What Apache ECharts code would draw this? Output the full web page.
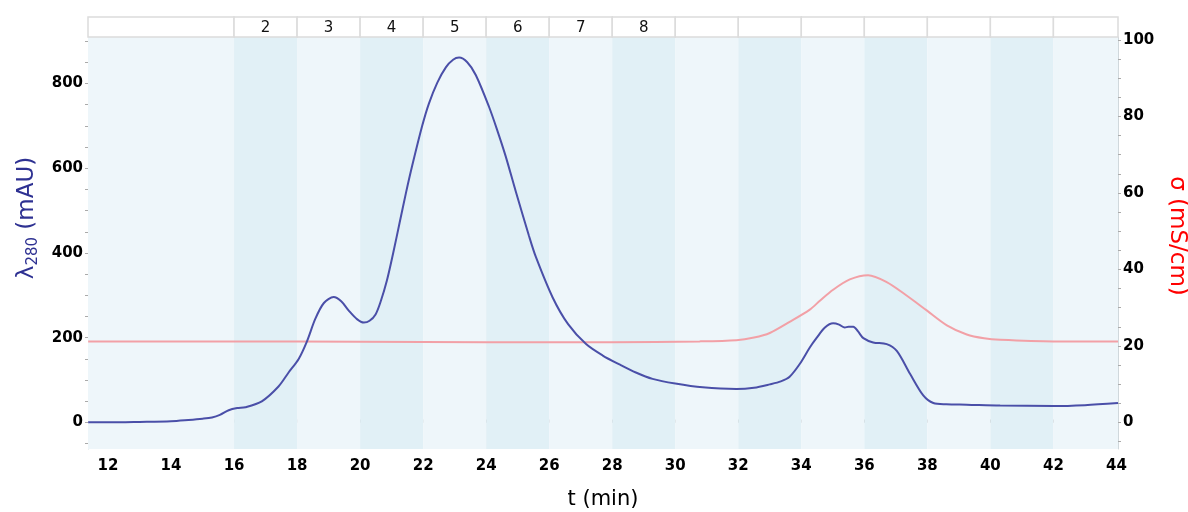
<!DOCTYPE html>
<html><head><meta charset="utf-8">
<script src="https://cdn.jsdelivr.net/npm/echarts@6/dist/echarts.min.js"></script>
<style>html,body{margin:0;padding:0;background:#fff}#c{width:1188px;height:512px}</style>
</head><body><div id="c"></div>
<script>
// ---- data ----
const xMin = 11.365, xMax = 44.05;
const absorbance = [[11.37,0.5],[12,0.5],[13,1.5],[14,3],[14.55,6],[15,9],[15.3,12],[15.55,18],[15.83,29],[16.1,34],[16.36,36],[16.88,50],[17.41,85],[17.73,118],[18.05,150],[18.31,191],[18.58,245],[18.85,282],[19.16,296],[19.4,286],[19.64,264],[19.9,244],[20.12,236],[20.3,240],[20.49,255],[20.65,285],[20.85,335],[21.05,400],[21.25,470],[21.45,540],[21.65,605],[21.97,700],[22.18,752],[22.45,802],[22.72,838],[22.95,856],[23.14,861],[23.4,850],[23.67,820],[24.09,745],[24.35,690],[24.62,628],[24.94,545],[25.36,440],[25.58,390],[26.11,295],[26.6,232],[27.17,185],[27.7,158],[28.23,137],[28.75,118],[29.28,103],[30.0,92],[30.87,83],[31.94,79],[32.5,82],[33.0,90],[33.35,97],[33.63,108],[33.95,138],[34.27,177],[34.48,199],[34.75,224],[35.01,234],[35.2,231],[35.38,224],[35.5,226],[35.65,226],[35.8,215],[35.97,199],[36.28,189],[36.71,185],[37.03,169],[37.45,115],[37.87,64],[38.19,46],[38.6,43],[39.25,42],[40.31,40],[42,39],[43,41],[44.05,46]];
const conductivity = [[11.37,21.2],[16,21.2],[20,21.1],[24,21.0],[28,21.0],[30.77,21.2],[31.94,21.5],[32.5,22.2],[33.0,23.4],[33.63,26.3],[34.27,29.5],[34.6,31.9],[35.01,34.7],[35.54,37.4],[36.12,38.5],[36.71,36.7],[37.34,33.2],[37.98,29.3],[38.62,25.4],[39.25,23.0],[39.8,22.0],[40.31,21.6],[42,21.2],[44.05,21.2]];
const fractionEdges = [16,18,20,22,24,26,28,30,32,34,36,38,40,42];
const fractionLabels = ['', '2','3','4','5','6','7','8','','','','','','',''];
const xTickLabels = [12,14,16,18,20,22,24,26,28,30,32,34,36,38,40,42,44];
const leftTickLabels = [0,200,400,600,800];
const rightTickLabels = [0,20,40,60,80,100];

// ---- build ----
const edges = [xMin].concat(fractionEdges, [xMax]);
const bandAreas = [], headerCells = [];
for (let i = 0; i < edges.length - 1; i++) {
  bandAreas.push([{xAxis: edges[i], itemStyle: {color: i % 2 ? '#e1f0f6' : '#eef6fa'}}, {xAxis: edges[i+1]}]);
  headerCells.push([{xAxis: edges[i], yAxis: 0, name: fractionLabels[i]}, {xAxis: edges[i+1], yAxis: 1}]);
}
const xMinorTicks = []; for (let v = 12; v <= 44; v++) xMinorTicks.push(v);
const leftTicks = []; for (let v = -50; v <= 900; v += 50) leftTicks.push(v);
const rightTicks = []; for (let v = -5; v <= 100; v += 5) rightTicks.push(v);

const lblFont = {color: '#000', fontFamily: 'DejaVu Sans', fontWeight: 'bold', fontSize: 15};
const chart = echarts.init(document.getElementById('c'), null, {renderer: 'canvas'});
chart.setOption({
  animation: false,
  grid: [
    {left: 88, right: 70, top: 37, bottom: 63, outerBoundsMode: 'none', containLabel: false},
    {left: 88, right: 70, top: 17, height: 20, outerBoundsMode: 'none', containLabel: false}
  ],
  xAxis: [
    {type: 'value', gridIndex: 0, min: xMin, max: xMax,
     name: 't (min)', nameLocation: 'middle', nameGap: 40,
     nameTextStyle: {fontFamily: 'DejaVu Sans', fontSize: 21, color: '#000'},
     axisLine: {show: true, lineStyle: {color: '#d0d8dc'}},
     axisTick: {show: true, customValues: xMinorTicks, length: 3, inside: true, lineStyle: {color: '#aaa'}},
     axisLabel: Object.assign({customValues: xTickLabels, margin: 10}, lblFont),
     splitLine: {show: false}},
    {type: 'value', gridIndex: 1, min: xMin, max: xMax, show: false}
  ],
  yAxis: [
    {type: 'value', gridIndex: 0, min: -62.5, max: 909.6, position: 'left',
     name: '{a|λ}{s|280}{a| (mAU)}', nameLocation: 'middle', nameGap: 47,
     nameTextStyle: {padding: [0,0,0,50], rich: {
       a: {fontFamily: 'DejaVu Sans', fontSize: 23, color: '#2e3192', lineHeight: 28},
       s: {fontFamily: 'DejaVu Sans', fontSize: 15, color: '#2e3192', lineHeight: 28, verticalAlign: 'bottom', padding: [10,0,0,0]}}},
     axisLine: {show: true, lineStyle: {color: '#d0d8dc'}},
     axisTick: {show: true, customValues: leftTicks, length: 3, lineStyle: {color: '#aaa'}},
     axisLabel: Object.assign({customValues: leftTickLabels, margin: 5}, lblFont),
     splitLine: {show: false}},
    {type: 'value', gridIndex: 0, min: -6.93, max: 100.76, position: 'right',
     name: 'σ (mS/cm)', nameLocation: 'middle', nameGap: 45, nameRotate: -90,
     nameTextStyle: {fontFamily: 'DejaVu Sans', fontSize: 23, color: '#ff0000', padding: [0,14,0,0]},
     axisLine: {show: true, lineStyle: {color: '#d0d8dc'}},
     axisTick: {show: true, customValues: rightTicks, length: 3, lineStyle: {color: '#aaa'}},
     axisLabel: Object.assign({customValues: rightTickLabels, margin: 5}, lblFont),
     splitLine: {show: false}},
    {type: 'value', gridIndex: 1, min: 0, max: 1, show: false}
  ],
  series: [
    {type: 'line', xAxisIndex: 0, yAxisIndex: 0, data: [], z: 1, silent: true,
     markArea: {silent: true, label: {show: false}, data: bandAreas}},
    {type: 'line', xAxisIndex: 1, yAxisIndex: 2, data: [], z: 1, silent: true,
     markArea: {silent: true,
       itemStyle: {color: '#fff', borderColor: '#dcdcdc', borderWidth: 1.5},
       label: {show: true, position: 'inside', color: '#111', fontFamily: 'DejaVu Sans', fontSize: 15, offset: [0, 1]},
       data: headerCells}},
    {type: 'line', name: 'conductivity', xAxisIndex: 0, yAxisIndex: 1, data: conductivity, z: 3,
     smooth: 0.3, showSymbol: false, lineStyle: {color: '#f2a0a6', width: 2}},
    {type: 'line', name: 'A280', xAxisIndex: 0, yAxisIndex: 0, data: absorbance, z: 4,
     smooth: 0.3, showSymbol: false, lineStyle: {color: '#4a4fa8', width: 2}}
  ]
});
</script></body></html>
